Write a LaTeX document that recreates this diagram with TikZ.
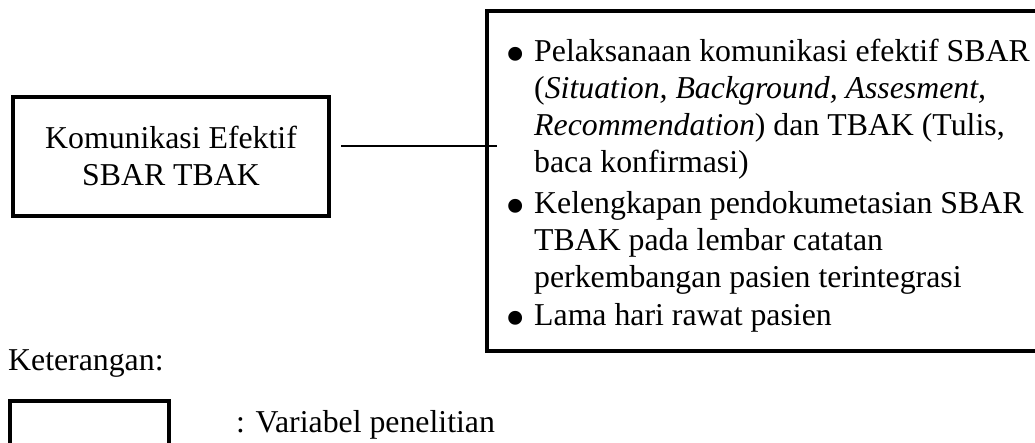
\documentclass[tikz,border=0pt]{standalone}
\usepackage{fontspec}
\setmainfont{Liberation Serif}
\begin{document}
\begin{tikzpicture}[x=1pt,y=-1pt,
  box/.style={draw, line width=4pt, rectangle, inner sep=0pt},
  txt/.style={anchor=base west, inner sep=0pt, font=\fontsize{31.8}{37}\selectfont},
  ctxt/.style={anchor=base, inner sep=0pt, font=\fontsize{31.8}{37}\selectfont},
  bul/.style={anchor=base, inner sep=0pt, font=\fontsize{58}{58}\selectfont},
  link/.style={line width=2.5pt}]
\useasboundingbox (0,0) rectangle (1035,443);
\clip (0,0) rectangle (1035,443);

% independent variable box
\node[box, minimum width=316.5pt, minimum height=119pt] (var) at (170.75,156.5) {};
\node[ctxt] (k1) at (171,148.5) {Komunikasi Efektif};
\node[ctxt] (k2) at (171,185.5) {SBAR TBAK};

% dependent variables box
\node[box, minimum width=558.5pt, minimum height=339pt] (dep) at (765.75,181) {};
\node[bul] (b1) at (516,74) {•};
\node[txt] (l1) at (534,62) {Pelaksanaan komunikasi efektif SBAR};
\node[txt] (l2) at (534,99) {(\textit{Situation, Background, Assesment,}};
\node[txt] (l3) at (534,136) {\textit{Recommendation}) dan TBAK (Tulis,};
\node[txt] (l4) at (534,173) {baca konfirmasi)};
\node[bul] (b2) at (516,226) {•};
\node[txt] (l5) at (534,214) {Kelengkapan pendokumetasian SBAR};
\node[txt] (l6) at (534,251) {TBAK pada lembar catatan};
\node[txt] (l7) at (534,288) {perkembangan pasien terintegrasi};
\node[bul] (b3) at (516,337) {•};
\node[txt] (l8) at (534,325) {Lama hari rawat pasien};

% connector
\coordinate (c1) at (341,146);
\coordinate (c2) at (497,146);
\draw[link] (c1) -- (c2);

% legend
\node[txt] (ket) at (8,370) {Keterangan:};
\node[box, minimum width=159pt, minimum height=80pt] (leg) at (89,441) {};
\node[txt] (legt) at (236,432) {: Variabel penelitian};
\end{tikzpicture}
\end{document}
